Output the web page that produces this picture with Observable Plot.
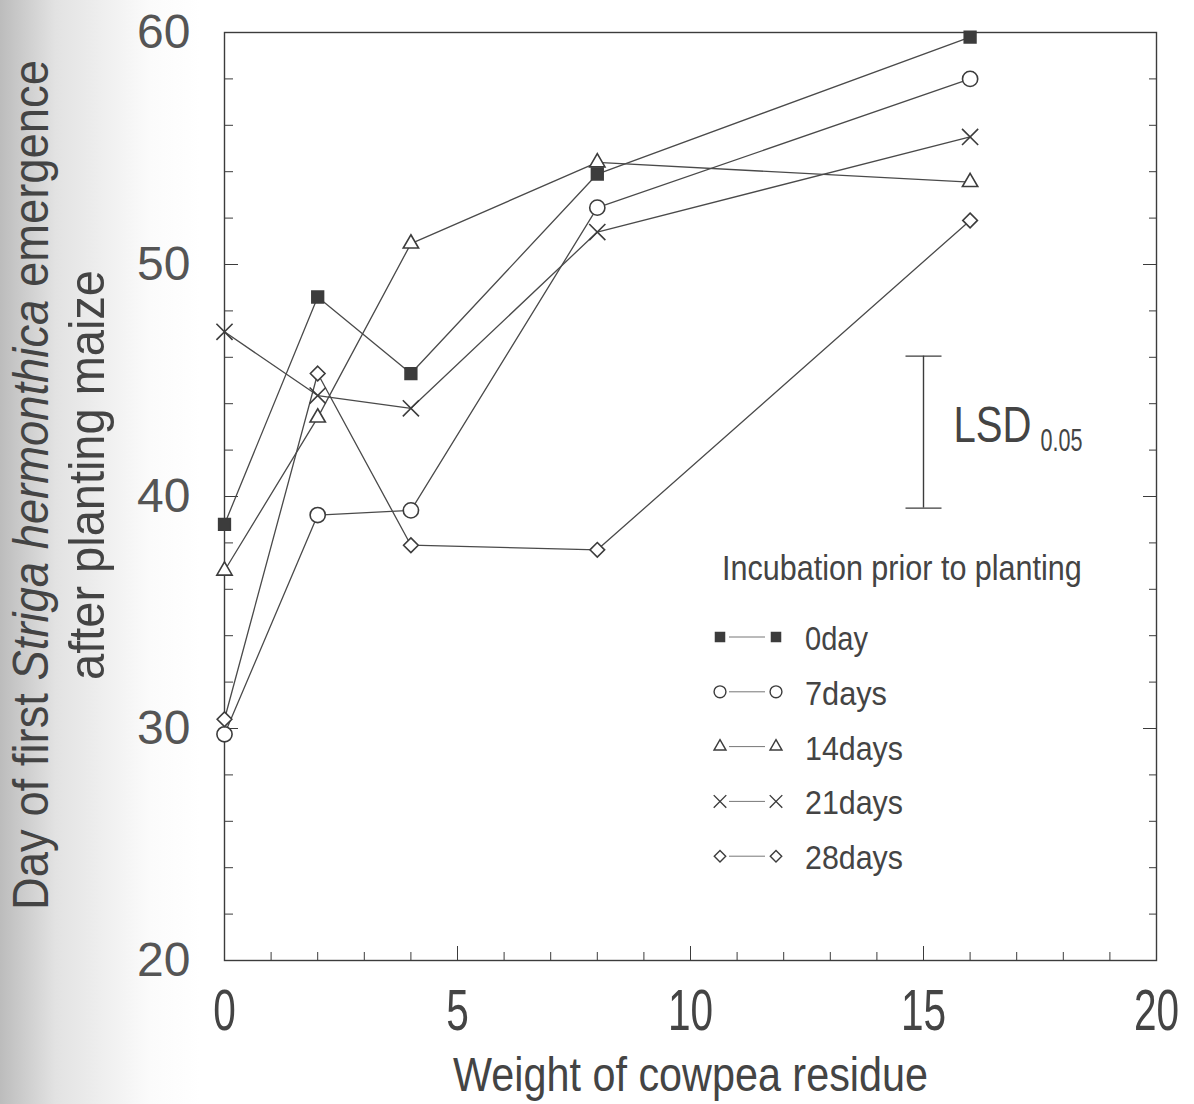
<!DOCTYPE html>
<html><head><meta charset="utf-8">
<script src="https://cdn.jsdelivr.net/npm/d3@7"></script>
<script src="https://cdn.jsdelivr.net/npm/@observablehq/plot@0.6"></script>
<style>
body{margin:0;background:linear-gradient(to right,#bcbcbc 0px,#e2e2e2 55px,#fbfbfb 150px,#fff 200px);}
#chart{position:relative;width:1194px;height:1104px;}
</style></head><body><div id="chart"></div>
<script>
// ---- data ----
const weights = [0, 2, 4, 8, 16];
const seriesNames = ["0day", "7days", "14days", "21days", "28days"];
const day0  = [38.8, 48.6, 45.3, 53.9, 59.8];
const day7  = [29.75, 39.2, 39.4, 52.45, 58.0];
const day14 = [36.8, 43.4, 50.9, 54.4, 53.55];
const day21 = [47.1, 44.35, 43.8, 51.4, 55.5];
const day28 = [30.4, 45.3, 37.9, 37.7, 51.9];
const xTickLabels = [0, 5, 10, 15, 20];
const yTickLabels = [20, 30, 40, 50, 60];
const lsdX = [15];
const lsdRange = [39.5, 46.05];
const xTitle = "Weight of cowpea residue";
const legendTitle = "Incubation prior to planting";

// ---- styling ----
const ink = "#3c3c3c";
const txt = "#444";
const font = "'Liberation Sans',Arial,Helvetica,sans-serif";
const symbols = ["square", "circle", "triangle", "times", "diamond2"];
const radii = [6.6, 7.6, 5.7, 7.4, 6.6];
const fills = [ink, "white", "white", "white", "white"];

const allSeries = [day0, day7, day14, day21, day28];
const rows = [];
seriesNames.forEach((s, i) => weights.forEach((w, j) => rows.push({series: s, x: w, y: allSeries[i][j]})));

const hbar = {draw(ctx) { ctx.moveTo(-18, 0); ctx.lineTo(18, 0); }};
const noLabel = () => "";

const plot = Plot.plot({
  width: 1194, height: 1104,
  marginLeft: 224, marginRight: 38, marginTop: 32, marginBottom: 144,
  x: {domain: [0, 20]},
  y: {domain: [20, 60]},
  style: {background: "transparent", color: ink, fontFamily: font},
  marks: [
    // inward ticks
    Plot.axisY(d3.range(20, 61, 2), {anchor: "left", tickSize: -9, tickFormat: noLabel, label: null, stroke: ink}),
    Plot.axisY(d3.range(20, 61, 10), {anchor: "left", tickSize: -14, tickFormat: noLabel, label: null, stroke: ink}),
    Plot.axisY(d3.range(20, 61, 2), {anchor: "right", tickSize: -8, tickFormat: noLabel, label: null, stroke: ink}),
    Plot.axisY(d3.range(20, 61, 10), {anchor: "right", tickSize: -14, tickFormat: noLabel, label: null, stroke: ink}),
    Plot.axisX(d3.range(0, 21, 1), {anchor: "bottom", tickSize: -8, tickFormat: noLabel, label: null, stroke: ink}),
    Plot.axisX(d3.range(0, 21, 5), {anchor: "bottom", tickSize: -14, tickFormat: noLabel, label: null, stroke: ink}),
    // tick labels
    Plot.axisY(yTickLabels, {anchor: "left", tickSize: 0, tickPadding: 34, label: null, fontSize: 48, fill: "#555"}),
    Plot.axisX(xTickLabels, {anchor: "bottom", tickSize: 0, tickPadding: 28, label: null, fontSize: 58, fill: txt}),
    Plot.text([xTitle], {frameAnchor: "bottom", text: d => d, dy: 130, fontSize: 49, fill: txt}),
    Plot.frame({stroke: ink, strokeWidth: 1.4}),
    // series lines
    Plot.line(rows, {x: "x", y: "y", z: "series", stroke: "#4a4a4a", strokeWidth: 1.3}),
    // markers
    ...seriesNames.map((s, i) => Plot.dot(rows.filter(d => d.series === s), {
      x: "x", y: "y", symbol: symbols[i], r: radii[i], fill: fills[i], stroke: ink, strokeWidth: 1.6
    })),
    // LSD bar
    Plot.ruleX(lsdX, {x: d => d, y1: lsdRange[0], y2: lsdRange[1], stroke: ink, strokeWidth: 1.4}),
    Plot.dot(lsdRange, {x: lsdX[0], y: d => d, symbol: hbar, stroke: ink, strokeWidth: 1.4}),
    Plot.text(lsdX, {x: d => d, y: (lsdRange[0] + lsdRange[1]) / 2, text: () => "LSD", textAnchor: "start", dx: 30, dy: -6, fontSize: 50, fill: txt}),
    Plot.text(lsdX, {x: d => d, y: (lsdRange[0] + lsdRange[1]) / 2, text: () => "0.05", textAnchor: "start", dx: 117, dy: 9, fontSize: 31, fill: txt})
  ]
});
document.getElementById("chart").appendChild(plot);
const svg = d3.select(plot);
const SVGNS = "http://www.w3.org/2000/svg";

// condense Plot-drawn texts: wrap each in a <g> scaled horizontally about its anchor;
// verify the result, and fall back to textLength if anything moved.
function condense(el, s) {
  const before = el.getBoundingClientRect();
  const anchor = getComputedStyle(el).textAnchor;
  const ax = anchor === "middle" ? (before.left + before.right) / 2 : anchor === "end" ? before.right : before.left;
  const parent = el.parentNode;
  const g = document.createElementNS(SVGNS, "g");
  parent.insertBefore(g, el);
  g.appendChild(el);
  const m = g.getScreenCTM().inverse();
  const p = new DOMPoint(ax, (before.top + before.bottom) / 2).matrixTransform(m);
  g.setAttribute("transform", `translate(${p.x},${p.y}) scale(${s},1) translate(${-p.x},${-p.y})`);
  const after = el.getBoundingClientRect();
  const ax2 = anchor === "middle" ? (after.left + after.right) / 2 : anchor === "end" ? after.right : after.left;
  const ok = Math.abs(ax2 - ax) < 3 && Math.abs(after.top - before.top) < 3 && Math.abs(after.width - before.width * s) < 4;
  if (!ok) {
    parent.insertBefore(el, g);
    g.remove();
    el.setAttribute("textLength", el.getComputedTextLength() * s);
    el.setAttribute("lengthAdjust", "spacingAndGlyphs");
  }
}
svg.selectAll('g[aria-label="x-axis tick label"] text').each(function () {
  if (this.getComputedTextLength() > 0) condense(this, 0.7);
});
const fixedWidths = new Map([[xTitle, 475], ["LSD", 78], ["0.05", 42]]);
svg.selectAll("text").each(function () {
  const w = fixedWidths.get(this.textContent);
  if (w) condense(this, w / this.getComputedTextLength());
});

// own texts: condense via a horizontal scale in the text's own frame
function addText(parent, {x, y, rotate = 0, size, width, anchor = "start"}, build) {
  const g = parent.append("g").attr("transform", `translate(${x},${y}) rotate(${rotate})`);
  const t = g.append("text").attr("text-anchor", anchor).attr("font-family", font)
    .attr("font-size", size).attr("fill", txt);
  build(t);
  const L = t.node().getComputedTextLength();
  t.attr("transform", `scale(${width / L},1)`);
  return t;
}

// ---- y-axis title (two lines, italic species name) ----
addText(svg, {x: 48, y: 485, rotate: -90, size: 50, width: 850, anchor: "middle"}, t => {
  t.append("tspan").text("Day of first ");
  t.append("tspan").attr("font-style", "italic").text("Striga hermonthica");
  t.append("tspan").text(" emergence");
});
addText(svg, {x: 104, y: 475, rotate: -90, size: 50, width: 410, anchor: "middle"}, t => t.text("after planting maize"));

// ---- legend ----
const leg = svg.append("g");
addText(leg, {x: 722, y: 580, size: 35, width: 360}, t => t.text(legendTitle));
const legR = radii.map(r => r * 0.78);
const entryWidths = [63, 82, 98, 98, 98];
const symMap = {square: d3.symbolSquare, circle: d3.symbolCircle, triangle: d3.symbolTriangle, times: d3.symbolTimes, diamond2: d3.symbolDiamond2};
seriesNames.forEach((name, i) => {
  const cy = 637 + i * 54.8;
  leg.append("line").attr("x1", 729).attr("x2", 765).attr("y1", cy).attr("y2", cy)
    .attr("stroke", "#777").attr("stroke-width", 1);
  const path = d3.symbol(symMap[symbols[i]], Math.PI * legR[i] * legR[i])();
  [720, 776].forEach(cx => {
    leg.append("path").attr("d", path).attr("transform", `translate(${cx},${cy})`)
      .attr("fill", i === 0 ? ink : "white").attr("stroke", ink).attr("stroke-width", 1.4);
  });
  addText(leg, {x: 805, y: cy + 13, size: 33, width: entryWidths[i]}, t => t.text(name));
});
</script></body></html>
